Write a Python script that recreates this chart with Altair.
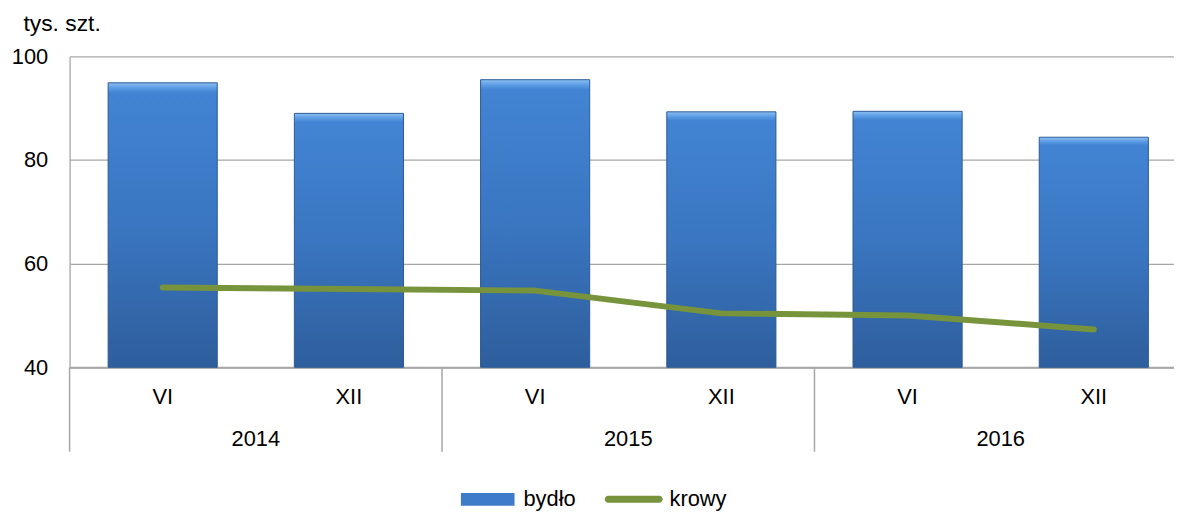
import altair as alt
import pandas as pd

# ---- data ----
years = ["2014", "2015", "2016"]
months = ["VI", "XII", "VI", "XII", "VI", "XII"]
bydlo = [94.9, 89.0, 95.5, 89.3, 89.4, 84.4]
krowy = [55.4, 55.1, 54.8, 50.4, 50.0, 47.3]
series_names = ["bydło", "krowy"]
y_ticks = [40, 60, 80, 100]

# ---- layout ----
W = 1112          # plot width (right part cropped like the reference)
H = 313           # plot height
BAND = 187.5      # px per category
XMAX = W / BAND
FONT = "Liberation Sans"
GRID = "#A6A6A6"

n = len(months)
df = pd.DataFrame({
    "pos": [i + 0.5 for i in range(n)],
    "x0": [i + 0.207 for i in range(n)],
    "x1": [i + 0.793 for i in range(n)],
    "month": months,
    "bydlo": bydlo,
    "krowy": krowy,
})
ydf = pd.DataFrame({
    "year": years,
    "center": [2 * k + 1 for k in range(len(years))],
    "edge": [2 * k for k in range(len(years))],
})
leg = pd.DataFrame({"series": series_names, "pos": [0.5, 0.5], "v": [bydlo[0], krowy[0]]})

xscale = alt.Scale(domain=[0, XMAX], nice=False, zero=False)
yscale = alt.Scale(domain=[40, 100], nice=False, zero=False)

base = alt.Chart(df)

bars = base.mark_rect(
    stroke="#2B5A94", strokeWidth=1,
    color=alt.Gradient(
        gradient="linear", x1=0, x2=0, y1=0, y2=1,
        stops=[
            alt.GradientStop(offset=0, color="#8CC0F2"),
            alt.GradientStop(offset=0.018, color="#5D9DE4"),
            alt.GradientStop(offset=0.035, color="#4284D3"),
            alt.GradientStop(offset=0.5, color="#3A76C1"),
            alt.GradientStop(offset=1, color="#2E5E9C"),
        ],
    ),
).encode(
    x=alt.X("x0:Q", scale=xscale,
            axis=alt.Axis(labels=False, ticks=False, grid=False, domain=True,
                          domainColor=GRID, domainWidth=2, title=None)),
    x2="x1:Q",
    y=alt.Y("bydlo:Q", scale=yscale,
            axis=alt.Axis(values=y_ticks, grid=True, gridColor=GRID, gridWidth=1.3,
                          ticks=False, domain=True, domainColor=GRID, domainWidth=1.3,
                          labelFontSize=22, labelFont=FONT, labelColor="black",
                          labelPadding=22,
                          title="tys. szt.", titleAngle=0, titleAlign="left",
                          titleBaseline="alphabetic", titleX=-47, titleY=-26,
                          titleFontSize=23, titleFont=FONT, titleFontWeight="normal",
                          titleColor="black")),
    y2=alt.datum(40),
)

line = base.mark_line(color="#77933C", strokeWidth=6, strokeCap="round",
                      strokeJoin="round").encode(
    x=alt.X("pos:Q", scale=xscale),
    y=alt.Y("krowy:Q", scale=yscale),
)

month_text = base.mark_text(fontSize=22, font=FONT, color="black",
                            baseline="alphabetic", clip=False).encode(
    x=alt.X("pos:Q", scale=xscale),
    y=alt.value(H + 37),
    text="month:N",
)

year_text = alt.Chart(ydf).mark_text(fontSize=22, font=FONT, color="black",
                                     baseline="alphabetic").encode(
    x=alt.X("center:Q", scale=xscale),
    y=alt.value(H + 79),
    text="year:N",
)

seps = alt.Chart(ydf).mark_rule(color=GRID, strokeWidth=1.5).encode(
    x=alt.X("edge:Q", scale=xscale),
    y=alt.value(H),
    y2=alt.value(H + 85),
)

path_rect = "M-1,-0.24H1V0.24H-1Z"
path_line = "M-0.95,-0.13H0.95A0.13,0.13 0 0 1 0.95,0.13H-0.95A0.13,0.13 0 0 1 -0.95,-0.13Z"

legend_pts = alt.Chart(leg).mark_point(filled=True, opacity=0).encode(
    x=alt.X("pos:Q", scale=xscale),
    y=alt.Y("v:Q", scale=yscale),
    color=alt.Color("series:N",
                    scale=alt.Scale(domain=series_names, range=["#3E7CC9", "#77933C"]),
                    legend=alt.Legend(orient="none", legendX=394, legendY=419,
                                      direction="horizontal", title=None,
                                      labelFontSize=22, labelFont=FONT,
                                      labelColor="black", symbolSize=2916,
                                      symbolOpacity=1, symbolStrokeWidth=0,
                                      columnPadding=28, labelOffset=9)),
    shape=alt.Shape("series:N",
                    scale=alt.Scale(domain=series_names, range=[path_rect, path_line]),
                    legend=None),
)

chart = alt.layer(seps, bars, line, month_text, year_text, legend_pts).properties(
    width=W, height=H,
    autosize=alt.AutoSizeParams(type="none"),
    padding={"left": 62, "top": 47, "right": 0, "bottom": 144},
    background="white",
).configure_view(stroke=None)

chart.save("out.html", embed_options={"renderer": "svg", "actions": False})
